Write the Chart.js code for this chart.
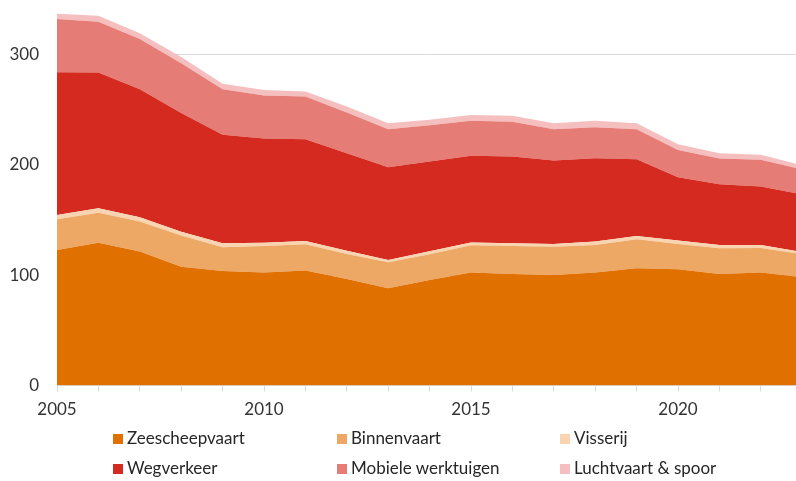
<!DOCTYPE html>
<html>
<head>
<meta charset="utf-8">
<script src="https://cdn.jsdelivr.net/npm/chart.js@4"></script>
<style>
  html, body { margin: 0; padding: 0; background: #fff; overflow: hidden; }
  #wrap { position: relative; width: 796px; height: 481px; }
  #legend { position: absolute; left: 0; top: 0; width: 796px; height: 481px; pointer-events: none;
            font-family: Lato, "Open Sans", sans-serif; font-size: 17px; color: #262626; }
  .item { position: absolute; white-space: nowrap; line-height: 20px; }
  .box { display: inline-block; width: 10px; height: 10px; margin-right: 4px; vertical-align: 0px; }
</style>
</head>
<body>
<div id="wrap">
  <canvas id="emChart" width="796" height="481"></canvas>
  <div id="legend"></div>
</div>
<script>
// jaren
const years = [2005, 2006, 2007, 2008, 2009, 2010, 2011, 2012, 2013, 2014,
               2015, 2016, 2017, 2018, 2019, 2020, 2021, 2022, 2023];

// waarden per bron
const zeescheepvaart = [122.7, 129.3, 121.2, 107.6, 103.7, 102.2, 104.0, 96.5, 88.0, 95.6,
                        102.2, 101.0, 100.1, 102.2, 106.2, 105.3, 101.0, 102.2, 98.0];
const binnenvaart = [27.8, 27.2, 27.2, 28.1, 21.5, 24.2, 23.9, 22.6, 23.6, 23.2,
                     24.8, 25.4, 25.6, 25.1, 26.2, 22.9, 23.3, 22.3, 21.0];
const visserij = [3.9, 4.0, 4.0, 3.6, 3.6, 2.9, 3.0, 3.0, 2.1, 2.8,
                  2.4, 2.4, 2.5, 3.0, 3.0, 3.0, 3.0, 2.8, 1.7];
const wegverkeer = [129.3, 122.8, 115.9, 107.3, 98.1, 94.3, 92.1, 88.2, 83.9, 81.1,
                    78.5, 78.5, 75.4, 75.5, 69.5, 57.4, 54.9, 52.8, 52.4];
const mobieleWerktuigen = [48.0, 46.0, 45.3, 45.2, 41.4, 38.9, 38.6, 36.8, 34.4, 33.0,
                           31.7, 31.4, 28.4, 28.1, 27.1, 24.7, 23.2, 24.2, 22.4];
const luchtvaartSpoor = [4.8, 5.4, 5.4, 5.5, 4.8, 5.0, 4.5, 5.4, 5.5, 4.8,
                         5.4, 5.4, 5.5, 5.7, 5.5, 5.2, 4.9, 4.5, 3.8];

const series = [
    { label: 'Zeescheepvaart', data: zeescheepvaart, color: '#e07000' },
    { label: 'Binnenvaart', data: binnenvaart, color: '#eda866' },
    { label: 'Visserij', data: visserij, color: '#f8d4b0' },
    { label: 'Wegverkeer', data: wegverkeer, color: '#d42a1f' },
    { label: 'Mobiele werktuigen', data: mobieleWerktuigen, color: '#e67c76' },
    { label: 'Luchtvaart & spoor', data: luchtvaartSpoor, color: '#f4bfbe' }
];

const font = { family: 'Lato, "Open Sans", sans-serif', size: 17 };

const ctx = document.getElementById('emChart').getContext('2d');
const emChart = new Chart(ctx, {
    type: 'line',
    data: {
        datasets: series.map((s, i) => ({
            label: s.label,
            data: years.map((yr, j) => ({ x: yr, y: s.data[j] })),
            backgroundColor: s.color,
            borderColor: s.color,
            borderWidth: 0,
            pointRadius: 0,
            tension: 0,
            fill: i === 0 ? 'origin' : '-1'
        }))
    },
    options: {
        responsive: false,
        animation: false,
        layout: { padding: 0 },
        plugins: {
            legend: { display: false },
            tooltip: { enabled: false }
        },
        scales: {
            x: {
                type: 'linear',
                min: 2005,
                max: 2022.85, // rechterkant valt net voor 2023, zoals in het origineel
                afterFit: (scale) => { scale.height = 95.5; },
                border: { display: true, color: '#d9d9d9' },
                grid: { drawOnChartArea: false, drawTicks: true, tickLength: 6, color: '#d9d9d9' },
                ticks: {
                    stepSize: 1,
                    includeBounds: false,
                    autoSkip: false,
                    maxRotation: 0,
                    padding: 8,
                    color: '#333',
                    font: font,
                    callback: (v) => (v % 5 === 0 ? String(v) : '')
                }
            },
            y: {
                stacked: true,
                min: 0,
                max: 349,
                afterFit: (scale) => {
                    scale.width = 57;
                    // geen extra ruimte boven/onder voor de labels, het plotvlak loopt tot de bovenrand
                    scale.paddingTop = 0;
                    scale.paddingBottom = 0;
                },
                border: { display: false },
                grid: { color: '#d9d9d9', drawTicks: false },
                ticks: {
                    stepSize: 100,
                    includeBounds: false,
                    padding: 18,
                    color: '#333',
                    font: font
                }
            }
        }
    }
});

// legenda in twee rijen van drie kolommen
const legendEl = document.getElementById('legend');
const colX = [113, 337, 560];
const rowY = [428, 458];
series.forEach((s, i) => {
    const div = document.createElement('div');
    div.className = 'item';
    div.style.left = colX[i % 3] + 'px';
    div.style.top = rowY[Math.floor(i / 3)] + 'px';
    div.innerHTML = '<span class="box" style="background:' + s.color + '"></span>' + s.label.replace('&', '&amp;');
    legendEl.appendChild(div);
});
</script>
</body>
</html>
